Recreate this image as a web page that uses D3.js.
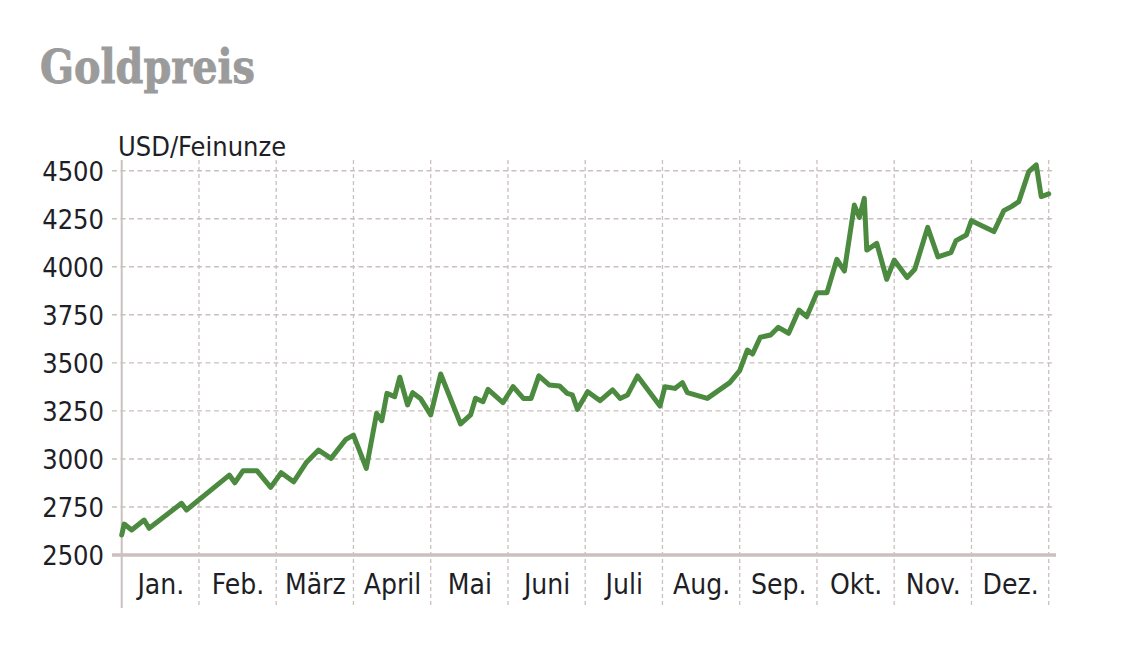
<!DOCTYPE html>
<html>
<head>
<meta charset="utf-8">
<script src="https://cdn.jsdelivr.net/npm/d3@7/dist/d3.min.js"></script>
<style>
  html, body { margin: 0; padding: 0; background: #fff; }
  svg { display: block; }
</style>
</head>
<body>
<script>
// ---- data ----
const title = "Goldpreis";
const unitLabel = "USD/Feinunze";
const months = ["Jan.", "Feb.", "März", "April", "Mai", "Juni", "Juli", "Aug.", "Sep.", "Okt.", "Nov.", "Dez."];
const yTicks = [2500, 2750, 3000, 3250, 3500, 3750, 4000, 4250, 4500];
const dates = [
  "2025-01-01","2025-01-02","2025-01-05","2025-01-10","2025-01-12","2025-01-25","2025-01-27",
  "2025-02-12","2025-02-14","2025-02-17","2025-02-22","2025-02-27",
  "2025-03-03","2025-03-08","2025-03-13","2025-03-18","2025-03-23","2025-03-29",
  "2025-04-01","2025-04-06","2025-04-10","2025-04-12","2025-04-14","2025-04-17","2025-04-19","2025-04-22","2025-04-24","2025-04-27",
  "2025-05-01","2025-05-05","2025-05-13","2025-05-17","2025-05-19","2025-05-22","2025-05-24","2025-05-30",
  "2025-06-03","2025-06-07","2025-06-10","2025-06-13","2025-06-17","2025-06-21","2025-06-24","2025-06-26","2025-06-28",
  "2025-07-02","2025-07-07","2025-07-12","2025-07-15","2025-07-18","2025-07-22","2025-07-31",
  "2025-08-02","2025-08-06","2025-08-09","2025-08-11","2025-08-19","2025-08-28",
  "2025-09-01","2025-09-04","2025-09-06","2025-09-09","2025-09-13","2025-09-16","2025-09-20","2025-09-24","2025-09-27",
  "2025-10-01","2025-10-05","2025-10-09","2025-10-12","2025-10-16","2025-10-18","2025-10-20","2025-10-21","2025-10-25","2025-10-29",
  "2025-11-01","2025-11-06","2025-11-09","2025-11-14","2025-11-18","2025-11-23","2025-11-25","2025-11-29",
  "2025-12-01","2025-12-10","2025-12-14","2025-12-17","2025-12-20","2025-12-24","2025-12-27","2025-12-29",
  "2026-01-01"
];
const prices = [
  2604,2661,2630,2682,2639,2769,2734,
  2916,2876,2939,2939,2852,
  2928,2881,2980,3046,3003,3102,
  3124,2951,3237,3199,3341,3324,3425,3281,3345,3315,
  3229,3442,3182,3229,3316,3298,3362,3293,
  3376,3315,3315,3432,3385,3380,3341,3333,3258,
  3350,3303,3359,3315,3333,3432,3275,
  3376,3367,3397,3345,3315,3397,
  3459,3567,3546,3633,3645,3685,3654,3775,3740,
  3865,3865,4039,3978,4321,4257,4356,4087,4122,3935,
  4035,3944,3987,4205,4051,4073,4136,4165,
  4240,4183,4292,4313,4339,4495,4530,4365,
  4379
];

// ---- layout ----
const W = 1122, H = 666;
const x0 = 121.7, x1 = 1048.7;
const yTop = 170.7, yBase = 555;
const gridColor = "#cbbfbf";
const textColor = "#1e1e26";
const fontSans = "'DejaVu Sans Condensed', 'DejaVu Sans', sans-serif";

const parse = d3.timeParse("%Y-%m-%d");
// position in "months" (each month equally wide, as in the chart)
function monthPos(d) {
  const mIdx = (d.getFullYear() - 2025) * 12 + d.getMonth();
  const start = new Date(d.getFullYear(), d.getMonth(), 1);
  const end = new Date(d.getFullYear(), d.getMonth() + 1, 1);
  return mIdx + (d - start) / (end - start);
}
const data = dates.map((s, i) => ({ pos: monthPos(parse(s)), v: prices[i] }));

const x = d3.scaleLinear().domain([0, 12]).range([x0, x1]);
const y = d3.scaleLinear().domain([2500, 4500]).range([yBase, yTop]);

const svg = d3.select("body").append("svg").attr("width", W).attr("height", H);

// title
svg.append("text")
  .attr("x", 40).attr("y", 83)
  .attr("font-family", "'DejaVu Serif Condensed', 'DejaVu Serif', serif")
  .attr("font-weight", "bold")
  .attr("font-size", 46)
  .attr("fill", "#9b9b9b")
  .attr("stroke", "#9b9b9b")
  .attr("stroke-width", 0.8)
  .attr("textLength", 215)
  .attr("lengthAdjust", "spacingAndGlyphs")
  .text(title);

// unit label
svg.append("text")
  .attr("x", 118).attr("y", 156)
  .attr("font-family", fontSans)
  .attr("font-size", 27)
  .attr("fill", textColor)
  .text(unitLabel);

// y tick labels
const yAxisG = svg.append("g").attr("class", "y-axis");
const yAxis = d3.axisLeft(y).tickValues(yTicks).tickSize(0).tickPadding(0).tickFormat(d3.format("d"));
yAxisG.attr("transform", `translate(${x0},0)`).call(yAxis);
yAxisG.select(".domain").remove();
yAxisG.selectAll("text")
  .attr("x", 104 - x0)
  .attr("dy", "0.36em")
  .attr("font-family", fontSans)
  .attr("font-size", 27)
  .attr("fill", textColor);

// horizontal grid (dashed)
svg.append("g").selectAll("line")
  .data(yTicks.filter(t => t > 2500))
  .join("line")
  .attr("x1", 112).attr("x2", 1053)
  .attr("y1", d => y(d)).attr("y2", d => y(d))
  .attr("stroke", gridColor)
  .attr("stroke-width", 1.4)
  .attr("stroke-dasharray", "5,3.5");

// vertical month dividers (dashed)
svg.append("g").selectAll("line")
  .data(d3.range(1, 13))
  .join("line")
  .attr("x1", d => x(d)).attr("x2", d => x(d))
  .attr("y1", 160).attr("y2", 608)
  .attr("stroke", gridColor)
  .attr("stroke-width", 1.3)
  .attr("stroke-dasharray", "4,3");

// left solid axis line
svg.append("line")
  .attr("x1", x(0)).attr("x2", x(0))
  .attr("y1", 160).attr("y2", 608)
  .attr("stroke", gridColor)
  .attr("stroke-width", 2);

// baseline
svg.append("line")
  .attr("x1", 112).attr("x2", 1056)
  .attr("y1", y(2500)).attr("y2", y(2500))
  .attr("stroke", gridColor)
  .attr("stroke-width", 3.3);

// month labels
const xAxis = d3.axisBottom(x)
  .tickValues(d3.range(12).map(i => i + 0.5))
  .tickSize(0).tickPadding(0)
  .tickFormat((d, i) => months[i]);
const xAxisG = svg.append("g").attr("transform", `translate(0,${yBase})`).call(xAxis);
xAxisG.select(".domain").remove();
xAxisG.selectAll("text")
  .attr("y", 39)
  .attr("dy", 0)
  .attr("font-family", fontSans)
  .attr("font-size", 28)
  .attr("fill", textColor);

// price line
const line = d3.line().x(d => x(d.pos)).y(d => y(d.v));
svg.append("path")
  .datum(data)
  .attr("d", line)
  .attr("fill", "none")
  .attr("stroke", "#4b8a3f")
  .attr("stroke-width", 5)
  .attr("stroke-linejoin", "round")
  .attr("stroke-linecap", "round");
</script>
</body>
</html>
